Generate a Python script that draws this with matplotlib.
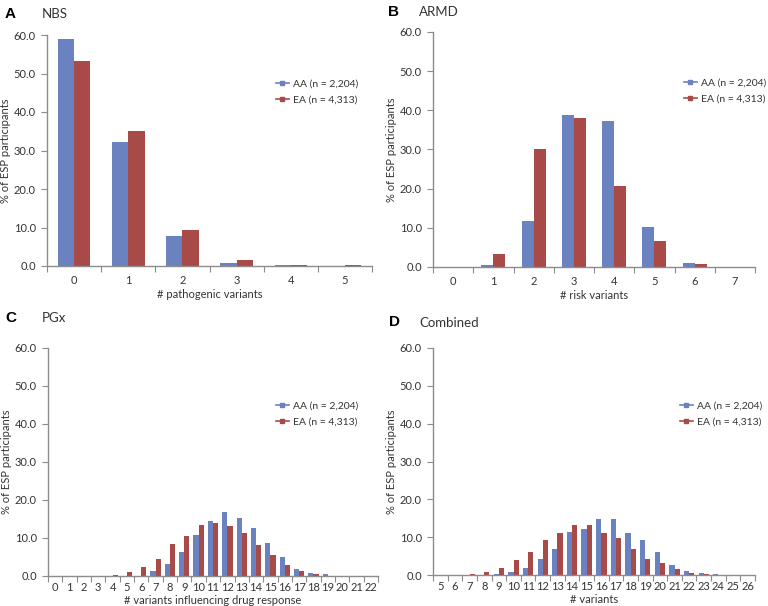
import numpy as np
import matplotlib.pyplot as plt

plt.rcParams['font.family'] = ['Lato', 'DejaVu Sans']

blue = '#6b82c0'
red = '#a84b48'
grey = '#8c8c8c'
txt = '#333333'

# panel A - NBS
nbs_x = [0, 1, 2, 3, 4, 5]
nbs_aa = [59.0, 32.2, 7.7, 0.9, 0.2, 0.0]
nbs_ea = [53.2, 35.1, 9.3, 1.6, 0.2, 0.2]

# panel B - ARMD
armd_x = [0, 1, 2, 3, 4, 5, 6, 7]
armd_aa = [0.0, 0.6, 11.8, 38.9, 37.3, 10.2, 1.1, 0.0]
armd_ea = [0.1, 3.3, 30.0, 38.1, 20.7, 6.7, 0.8, 0.1]

# panel C - PGx
pgx_x = list(range(0, 23))
pgx_aa = [0.0, 0.0, 0.0, 0.0, 0.0, 0.1, 0.1, 1.4, 3.1, 6.4, 10.9, 14.5, 16.9,
          15.2, 12.6, 8.7, 5.0, 1.9, 0.8, 0.4, 0.1, 0.0, 0.0]
pgx_ea = [0.0, 0.0, 0.1, 0.1, 0.3, 1.0, 2.3, 4.4, 8.3, 10.6, 13.4, 14.0, 13.2,
          11.3, 8.1, 5.5, 2.9, 1.2, 0.4, 0.1, 0.05, 0.05, 0.05]

# panel D - Combined
comb_x = list(range(5, 27))
comb_aa = [0.0, 0.0, 0.0, 0.0, 0.2, 0.8, 1.9, 4.2, 7.0, 11.3, 12.1, 14.8, 14.8,
           11.1, 9.3, 6.0, 2.7, 1.1, 0.6, 0.2, 0.0, 0.0]
comb_ea = [0.0, 0.0, 0.2, 0.8, 1.9, 4.0, 6.2, 9.3, 11.1, 13.1, 13.3, 11.1, 9.8,
           7.0, 4.2, 3.1, 1.7, 0.6, 0.2, 0.05, 0.0, 0.0]

# letter, title, x, AA, EA, xlabel, axes box (px l,t,r,b), bar width,
# legend (px x,y), letter pos, title pos, tick pad, xlabel offset
panels = [
    ('A', 'NBS', nbs_x, nbs_aa, nbs_ea, '# pathogenic variants',
     [47, 35, 372, 266], 0.30, (276, 84), (5, 14), (42, 14), 6.5, 23),
    ('B', 'ARMD', armd_x, armd_aa, armd_ea, '# risk variants',
     [433, 32, 755, 267], 0.30, (684, 83), (388, 12), (419, 12), 6.5, 23),
    ('C', 'PGx', pgx_x, pgx_aa, pgx_ea, '# variants influencing drug response',
     [48, 348, 378, 576], 0.36, (276, 406), (5, 318), (42, 318), 4.5, 19),
    ('D', 'Combined', comb_x, comb_aa, comb_ea, '# variants',
     [433, 348, 755, 575], 0.36, (680, 406), (389, 322), (419, 323), 4.5, 19),
]

W, H = 768, 606
fig = plt.figure(figsize=(W / 100, H / 100), dpi=100)

for letter, title, xs, aa, ea, xlabel, box, bw, leg, lpos, tpos, tpad, xoff in panels:
    l, t, r, b = box
    w, h = r - l, b - t
    ax = fig.add_axes([l / W, 1 - b / H, w / W, h / H])
    pos = np.arange(len(xs))
    ax.bar(pos - bw / 2, aa, bw, color=blue)
    ax.bar(pos + bw / 2, ea, bw, color=red)
    ax.set_xlim(-0.5, len(xs) - 0.5)
    ax.set_ylim(0, 60)
    yt = np.arange(0, 61, 10)
    ax.set_yticks(yt)
    ax.set_yticklabels(['%.1f' % v for v in yt])
    ax.set_xticks(pos)
    ax.set_xticklabels([str(v) for v in xs])
    ax.set_xticks(np.arange(-0.5, len(xs), 1.0), minor=True)
    ax.tick_params(axis='x', which='major', length=0, labelsize=8, pad=tpad, labelcolor=txt)
    ax.tick_params(axis='x', which='minor', length=4, color=grey, width=0.8)
    ax.tick_params(axis='y', length=4, color=grey, width=0.8, labelsize=8, pad=4,
                   labelcolor=txt)
    for s in ['top', 'right']:
        ax.spines[s].set_visible(False)
    for s in ['left', 'bottom']:
        ax.spines[s].set_color(grey)
        ax.spines[s].set_linewidth(1.0)
    ax.set_xlabel(xlabel, fontsize=8, color=txt)
    ax.xaxis.set_label_coords(0.5, -xoff / h)
    ax.set_ylabel('% of ESP participants', fontsize=8, color=txt)
    ax.yaxis.set_label_coords(-36 / w, 0.5)

    # legend drawn as line + square marker
    hs = [plt.Line2D([], [], color=blue, marker='s', markersize=3.5, lw=1.2),
          plt.Line2D([], [], color=red, marker='s', markersize=3.5, lw=1.2)]
    fig.legend(hs, ['AA (n = 2,204)', 'EA (n = 4,313)'], loc='center left',
               bbox_to_anchor=(leg[0] / W, 1 - (leg[1] + 8) / H), frameon=False,
               fontsize=7.5, handlelength=1.2, handletextpad=0.4, labelspacing=0.6,
               borderpad=0, borderaxespad=0, labelcolor=txt)

    fig.text(lpos[0] / W, 1 - lpos[1] / H, letter, fontsize=11, fontweight='bold',
             va='center', ha='left', family='Liberation Sans')
    fig.text(tpos[0] / W, 1 - tpos[1] / H, title, fontsize=9.5, va='center',
             ha='left', color=txt)

fig.savefig('out.png', dpi=100)
